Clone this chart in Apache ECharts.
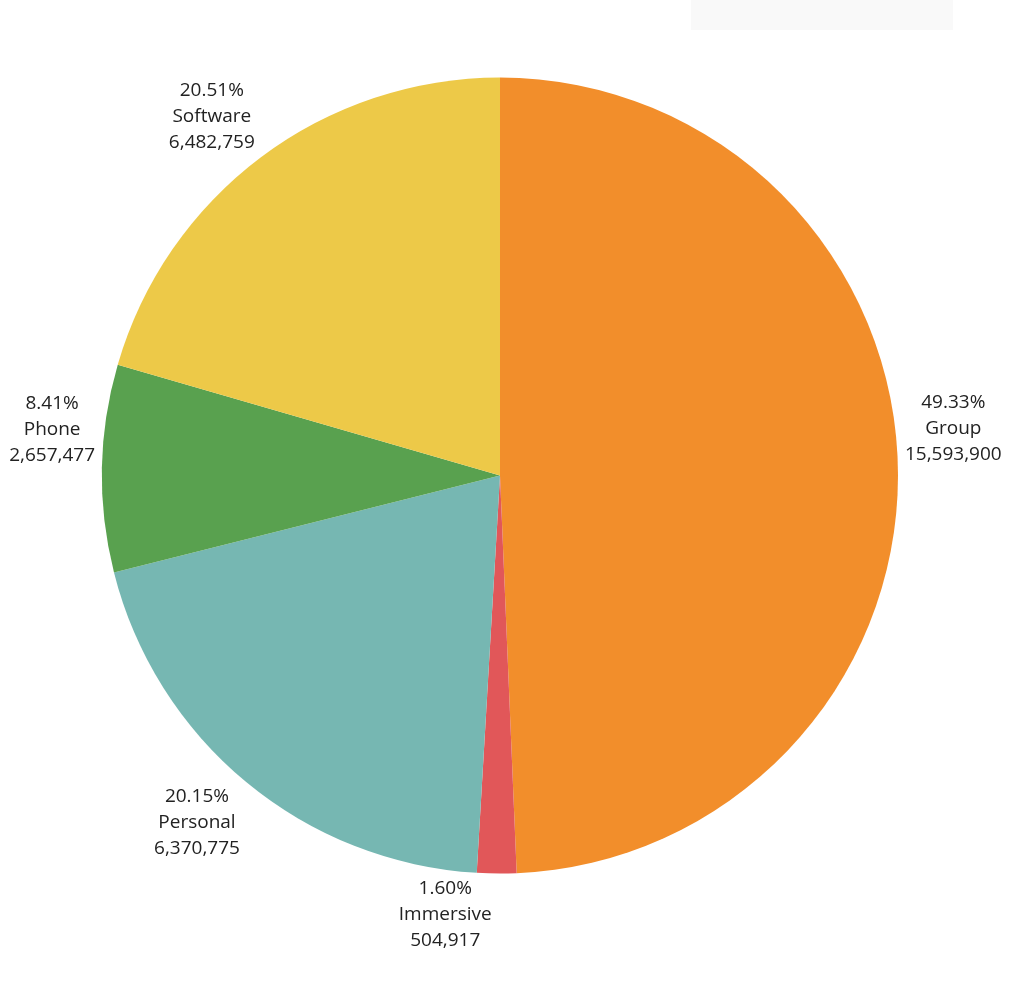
<!DOCTYPE html>
<html lang="en">
<head>
    <meta charset="UTF-8">
    <title>Pie</title>
    <script src="https://cdn.jsdelivr.net/npm/echarts@6/dist/echarts.min.js"></script>
    <style>
        html, body { margin: 0; padding: 0; background: #fff; }
        #chart { width: 1024px; height: 986px; }
    </style>
</head>
<body>
<div id="chart"></div>
<script>
    // data
    var categories = ['Group', 'Immersive', 'Personal', 'Phone', 'Software'];
    var values = [15593900, 504917, 6370775, 2657477, 6482759];
    var colors = ['#F28E2B', '#E15759', '#76B7B2', '#59A14F', '#EDC948'];

    var lineH = 26;
    var total = values.reduce(function (a, b) { return a + b; }, 0);

    // tableau puts labels above the point on the top half, below it on the bottom half
    var cum = 0;
    var pieData = categories.map(function (name, i) {
        var mid = (cum + values[i] / 2) / total * Math.PI * 2;
        cum += values[i];
        var upper = Math.cos(mid) > 0;
        return {
            name: name,
            value: values[i],
            itemStyle: { color: colors[i] },
            label: { padding: upper ? [0, 0, lineH * 3, 0] : [lineH * 3, 0, 0, 0] }
        };
    });

    var chart = echarts.init(document.getElementById('chart'));
    chart.setOption({
        animation: false,
        backgroundColor: '#fff',
        graphic: [{
            type: 'rect',
            shape: { x: 691, y: 0, width: 262, height: 30 },
            style: { fill: '#f9f9f9' },
            silent: true
        }],
        series: [{
            type: 'pie',
            center: [500, 475.5],
            radius: 398,
            startAngle: 90,
            clockwise: true,
            avoidLabelOverlap: false,
            percentPrecision: 2,
            itemStyle: { borderWidth: 0 },
            label: {
                show: true,
                position: 'outside',
                formatter: function (p) {
                    return '{t|' + p.percent.toFixed(2) + '%}\n{t|' + p.name + '}\n{t|' +
                        p.value.toLocaleString('en-US') + '}';
                },
                rich: {
                    t: {
                        fontFamily: 'Open Sans',
                        fontSize: 19,
                        lineHeight: lineH,
                        color: '#222',
                        align: 'center'
                    }
                }
            },
            labelLine: { show: false, length: 2, length2: 0 },
            emphasis: { disabled: true },
            data: pieData
        }]
    });
</script>
</body>
</html>
